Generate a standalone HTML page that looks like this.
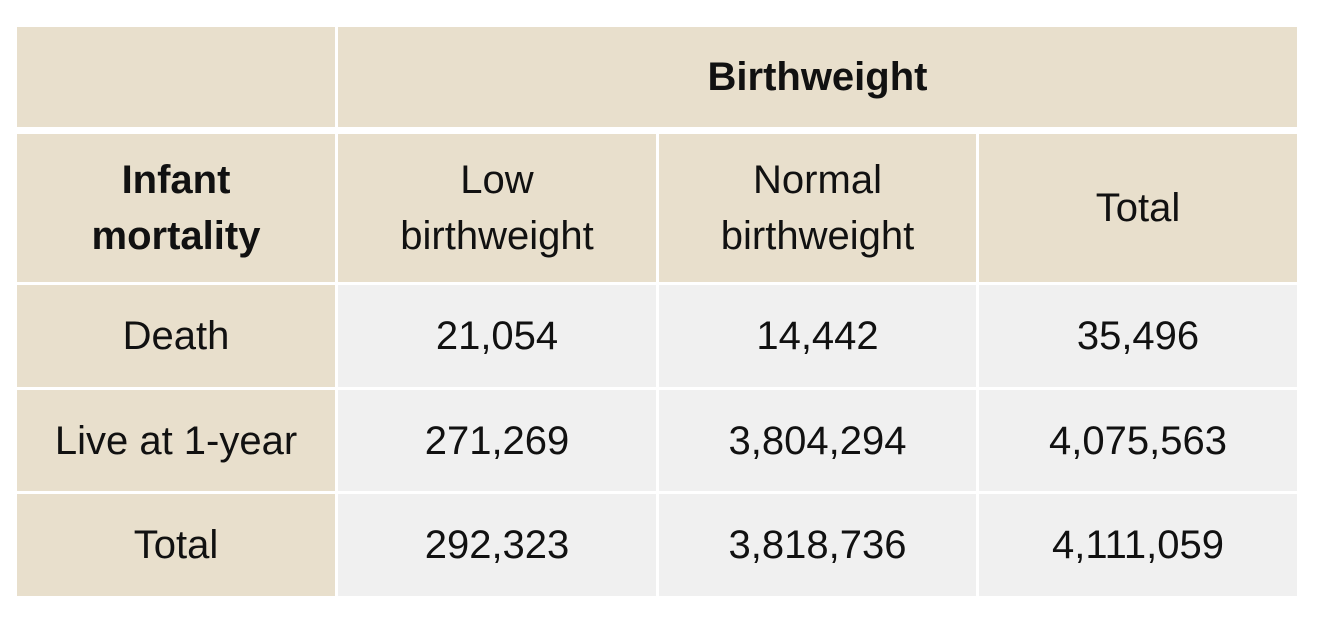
<!DOCTYPE html>
<html><head><style>
body{margin:0;width:1320px;height:628px;background:#fff;position:relative;font-family:"Liberation Sans Narrow","Liberation Sans",sans-serif;font-size:40px;color:#111;}
.c{position:absolute;display:flex;align-items:center;justify-content:center;text-align:center;line-height:56px;}
.b{background:#e8dfcc}.g{background:#f0f0f0}
</style></head><body>
<div class="c b" style="left:17px;top:27px;width:318px;height:100px"></div>
<div class="c b" style="left:338px;top:27px;width:959px;height:100px;font-weight:bold">Birthweight</div>
<div class="c b" style="left:17px;top:134px;width:318px;height:148px;font-weight:bold">Infant<br>mortality</div>
<div class="c b" style="left:338px;top:134px;width:318px;height:148px">Low<br>birthweight</div>
<div class="c b" style="left:659px;top:134px;width:317px;height:148px">Normal<br>birthweight</div>
<div class="c b" style="left:979px;top:134px;width:318px;height:148px">Total</div>

<div class="c b" style="left:17px;top:285px;width:318px;height:102px">Death</div>
<div class="c g" style="left:338px;top:285px;width:318px;height:102px">21,054</div>
<div class="c g" style="left:659px;top:285px;width:317px;height:102px">14,442</div>
<div class="c g" style="left:979px;top:285px;width:318px;height:102px">35,496</div>

<div class="c b" style="left:17px;top:390px;width:318px;height:101px">Live at 1-year</div>
<div class="c g" style="left:338px;top:390px;width:318px;height:101px">271,269</div>
<div class="c g" style="left:659px;top:390px;width:317px;height:101px">3,804,294</div>
<div class="c g" style="left:979px;top:390px;width:318px;height:101px">4,075,563</div>

<div class="c b" style="left:17px;top:494px;width:318px;height:102px">Total</div>
<div class="c g" style="left:338px;top:494px;width:318px;height:102px">292,323</div>
<div class="c g" style="left:659px;top:494px;width:317px;height:102px">3,818,736</div>
<div class="c g" style="left:979px;top:494px;width:318px;height:102px">4,111,059</div>
</body></html>
